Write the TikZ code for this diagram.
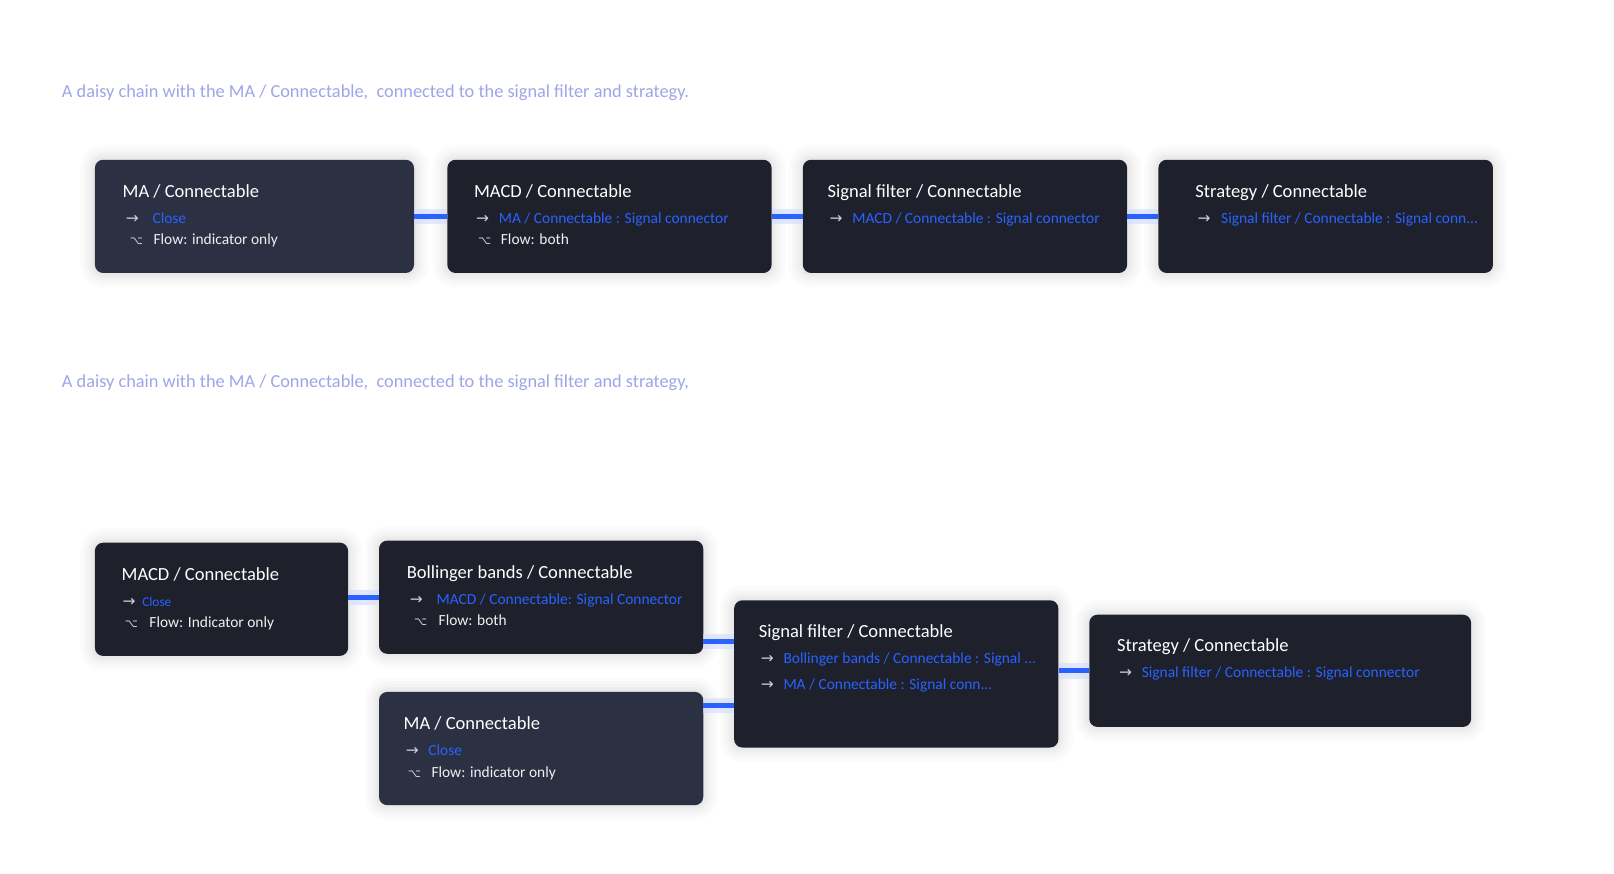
\documentclass[tikz,border=0pt]{standalone}
\usepackage{fontspec}
\setmainfont{Carlito}
\newfontfamily\symf{DejaVu Sans}
\usepackage{tikz}
\usetikzlibrary{positioning}
\definecolor{carddark}{RGB}{30,33,44}
\definecolor{cardlight}{RGB}{43,48,66}
\definecolor{linkblue}{RGB}{41,98,255}
\definecolor{captionlav}{RGB}{160,164,232}
\definecolor{glyphgray}{RGB}{205,208,218}
\tikzstyle{card} = [rectangle, rounded corners=8pt, minimum width=315pt, minimum height=110pt, inner sep=0pt, fill=carddark,
    preaction={draw=black, opacity=0.016, line width=28pt},
    preaction={draw=black, opacity=0.016, line width=21pt},
    preaction={draw=black, opacity=0.016, line width=15pt},
    preaction={draw=black, opacity=0.018, line width=10pt},
    preaction={draw=black, opacity=0.02, line width=5pt}]
\tikzstyle{lightcard} = [card, fill=cardlight]
\tikzstyle{title} = [anchor=base west, inner sep=0pt, text=white, font=\fontsize{18}{18}\selectfont]
\tikzstyle{item} = [anchor=base west, inner sep=0pt, text=white!94!black, font=\fontsize{15}{15}\selectfont]
\tikzstyle{caption} = [anchor=base west, inner sep=0pt, text=captionlav, font=\fontsize{17.8}{17.8}\selectfont]
\tikzstyle{link} = [line width=5pt, draw=linkblue, preaction={draw=linkblue!22, line width=15pt, opacity=0.6}]

\begin{document}
\begin{tikzpicture}[x=1pt, y=-1pt]
    \fill [white] (0,0) rectangle (1568,849);
    \useasboundingbox (0,0) rectangle (1568,849);
    \node (cap1) [caption] at (60,95) {A daisy chain with the MA / Connectable,\ \ connected to the signal filter and strategy.};
    \node (cap2) [caption] at (60,376) {A daisy chain with the MA / Connectable,\ \ connected to the signal filter and strategy,};
    % first chain
    \node (ma1) [lightcard, minimum width=310pt, anchor=north west] at (92,155) {};
    \node (macd1) [card, right=32pt of ma1] {};
    \node (sig1) [card, right=30pt of macd1] {};
    \node (strat1) [card, minimum width=325pt, right=30pt of sig1] {};
    \node (ma1t) [title] at ([xshift=27pt, yshift=-37pt]ma1.north west) {MA / Connectable};
    \node (ma1a) [item] at ([xshift=30pt, yshift=-62pt]ma1.north west) {\makebox[26pt][l]{\symf\textcolor{glyphgray}{→}}\textcolor{linkblue}{Close}};
    \node (ma1f) [item] at ([xshift=34pt, yshift=-83pt]ma1.north west) {\makebox[23pt][l]{\symf\fontsize{11}{11}\selectfont\textcolor{glyphgray}{⌥}}Flow: indicator only};
    \node (macd1t) [title] at ([xshift=26pt, yshift=-37pt]macd1.north west) {MACD / Connectable};
    \node (macd1a) [item] at ([xshift=28pt, yshift=-62pt]macd1.north west) {\makebox[22pt][l]{\symf\textcolor{glyphgray}{→}}\textcolor{linkblue}{MA / Connectable : Signal connector}};
    \node (macd1f) [item] at ([xshift=30pt, yshift=-83pt]macd1.north west) {\makebox[22pt][l]{\symf\fontsize{11}{11}\selectfont\textcolor{glyphgray}{⌥}}Flow: both};
    \node (sig1t) [title] at ([xshift=24pt, yshift=-37pt]sig1.north west) {Signal filter / Connectable};
    \node (sig1a) [item] at ([xshift=26pt, yshift=-62pt]sig1.north west) {\makebox[22pt][l]{\symf\textcolor{glyphgray}{→}}\textcolor{linkblue}{MACD / Connectable : Signal connector}};
    \node (strat1t) [title] at ([xshift=36pt, yshift=-37pt]strat1.north west) {Strategy / Connectable};
    \node (strat1a) [item] at ([xshift=38pt, yshift=-62pt]strat1.north west) {\makebox[23pt][l]{\symf\textcolor{glyphgray}{→}}\textcolor{linkblue}{Signal filter / Connectable : Signal conn...}};
    \draw [link] (ma1.east) -- (macd1.west);
    \draw [link] (macd1.east) -- (sig1.west);
    \draw [link] (sig1.east) -- (strat1.west);
    % second chain
    \node (macd2) [card, minimum width=246pt, anchor=north west] at (92,527) {};
    \node (boll2) [card, anchor=north west] at (368,525) {};
    \node (ma2) [lightcard, anchor=north west] at (368,672) {};
    \node (sig2) [card, minimum height=143pt, anchor=north west] at (713,583) {};
    \node (strat2) [card, minimum width=371pt, minimum height=109pt, anchor=north west] at (1058,597) {};
    \node (macd2t) [title] at ([xshift=26pt, yshift=-37pt]macd2.north west) {MACD / Connectable};
    \node (macd2a) [item] at ([xshift=27pt, yshift=-62pt]macd2.north west) {\makebox[19pt][l]{\symf\textcolor{glyphgray}{→}}\textcolor{linkblue}{\fontsize{13}{13}\selectfont Close}};
    \node (macd2f) [item] at ([xshift=29pt, yshift=-83pt]macd2.north west) {\makebox[24pt][l]{\symf\fontsize{11}{11}\selectfont\textcolor{glyphgray}{⌥}}Flow: Indicator only};
    \node (boll2t) [title] at ([xshift=27pt, yshift=-37pt]boll2.north west) {Bollinger bands / Connectable};
    \node (boll2a) [item] at ([xshift=30pt, yshift=-62pt]boll2.north west) {\makebox[26pt][l]{\symf\textcolor{glyphgray}{→}}\textcolor{linkblue}{MACD / Connectable: Signal Connector}};
    \node (boll2f) [item] at ([xshift=34pt, yshift=-83pt]boll2.north west) {\makebox[24pt][l]{\symf\fontsize{11}{11}\selectfont\textcolor{glyphgray}{⌥}}Flow: both};
    \node (ma2t) [title] at ([xshift=24pt, yshift=-37pt]ma2.north west) {MA / Connectable};
    \node (ma2a) [item] at ([xshift=26pt, yshift=-62pt]ma2.north west) {\makebox[22pt][l]{\symf\textcolor{glyphgray}{→}}\textcolor{linkblue}{Close}};
    \node (ma2f) [item] at ([xshift=28pt, yshift=-83pt]ma2.north west) {\makebox[23pt][l]{\symf\fontsize{11}{11}\selectfont\textcolor{glyphgray}{⌥}}Flow: indicator only};
    \node (sig2t) [title] at ([xshift=24pt, yshift=-36pt]sig2.north west) {Signal filter / Connectable};
    \node (sig2a) [item] at ([xshift=26pt, yshift=-62pt]sig2.north west) {\makebox[22pt][l]{\symf\textcolor{glyphgray}{→}}\textcolor{linkblue}{Bollinger bands / Connectable : Signal ...}};
    \node (sig2b) [item] at ([xshift=26pt, yshift=-87pt]sig2.north west) {\makebox[22pt][l]{\symf\textcolor{glyphgray}{→}}\textcolor{linkblue}{MA / Connectable : Signal conn...}};
    \node (strat2t) [title] at ([xshift=27pt, yshift=-36pt]strat2.north west) {Strategy / Connectable};
    \node (strat2a) [item] at ([xshift=29pt, yshift=-61pt]strat2.north west) {\makebox[22pt][l]{\symf\textcolor{glyphgray}{→}}\textcolor{linkblue}{Signal filter / Connectable : Signal connector}};
    \draw [link] (macd2.east |- boll2.west) -- (boll2.west);
    \draw [link] ([yshift=-43pt]boll2.east) -- ([yshift=-43pt]boll2.east -| sig2.west);
    \draw [link] ([yshift=42pt]ma2.east) -- ([yshift=42pt]ma2.east -| sig2.west);
    \draw [link] (sig2.east |- strat2.west) -- (strat2.west);
\end{tikzpicture}
\end{document}
